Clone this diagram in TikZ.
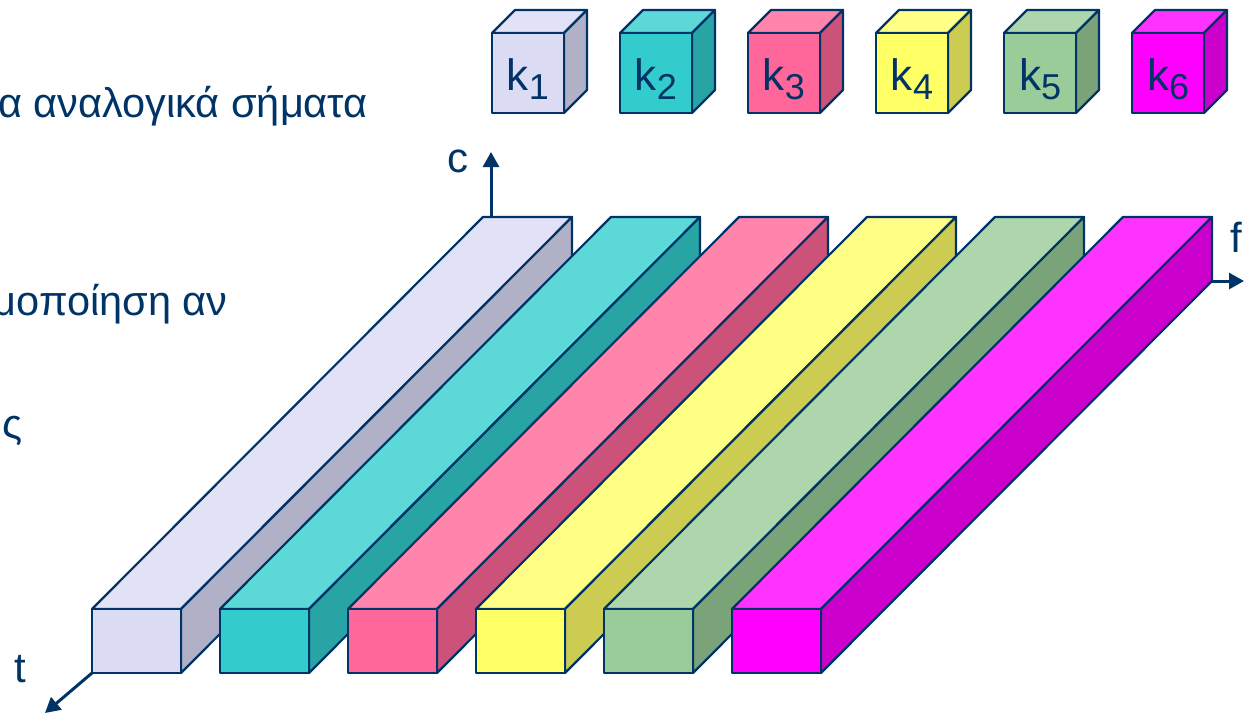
\documentclass[tikz,border=0pt]{standalone}
\usepackage{fontspec}
\setmainfont{Liberation Sans}
\usetikzlibrary{arrows.meta}
\definecolor{navy}{HTML}{003366}
\definecolor{fr1}{RGB}{219,219,244}\definecolor{tp1}{RGB}{226,226,246}\definecolor{sd1}{RGB}{176,176,199}
\definecolor{fr2}{HTML}{33CCCC}\definecolor{tp2}{HTML}{5CD8D8}\definecolor{sd2}{HTML}{29A4A4}
\definecolor{fr3}{HTML}{FF6699}\definecolor{tp3}{HTML}{FF85AD}\definecolor{sd3}{HTML}{CC527A}
\definecolor{fr4}{HTML}{FFFF66}\definecolor{tp4}{HTML}{FFFF85}\definecolor{sd4}{HTML}{CCCC52}
\definecolor{fr5}{HTML}{99CC99}\definecolor{tp5}{HTML}{ADD6AD}\definecolor{sd5}{HTML}{7AA37A}
\definecolor{fr6}{HTML}{FF00FF}\definecolor{tp6}{HTML}{FF33FF}\definecolor{sd6}{HTML}{CC00CC}
\tikzset{
  face/.style={draw=navy, line width=2.2pt, line join=round},
  axis/.style={draw=navy, line width=3pt, -{Triangle[length=15pt,width=16pt]}},
  lbl/.style={text=navy, font=\fontsize{42}{48}\selectfont, inner sep=0pt},
  greek/.style={text=navy, font=\fontsize{41.5}{48}\selectfont, inner sep=0pt},
}
\begin{document}
\begin{tikzpicture}[x=1pt,y=-1pt]
\useasboundingbox (0,0) rectangle (1245,713);
\clip (0,0) rectangle (1245,713);
\fill[white] (0,0) rectangle (1245,713);
% partial text lines (cut by the left edge, as in the reference)
\node[greek, anchor=base east] (g1) at (368,117) {τα αναλογικά σήματα};
\node[greek, anchor=base east] (g2) at (228,315) {ομοποίηση αν};
\node[greek, anchor=base west] (g3) at (2,438) {ς};
% bars
\foreach \i in {1,...,6}{
  \pgfmathsetmacro\xa{92+128*(\i-1)}
  \pgfmathsetmacro\xb{\xa+89}
  \pgfmathsetmacro\xc{\xa+391}
  \pgfmathsetmacro\xd{\xb+391}
  \filldraw[face, fill=tp\i] (\xa,609) -- (\xb,609) -- (\xd,217) -- (\xc,217) -- cycle;
  \filldraw[face, fill=sd\i] (\xb,609) -- (\xd,217) -- (\xd,281) -- (\xb,673) -- cycle;
  \filldraw[face, fill=fr\i] (\xa,609) rectangle (\xb,673);
}
% cubes
\foreach \i in {1,...,6}{
  \pgfmathsetmacro\xa{492+128*(\i-1)}
  \pgfmathsetmacro\xb{\xa+72}
  \pgfmathsetmacro\xc{\xa+23}
  \pgfmathsetmacro\xd{\xb+23}
  \pgfmathsetmacro\xm{\xa+36}
  \filldraw[face, fill=tp\i] (\xa,33) -- (\xb,33) -- (\xd,10) -- (\xc,10) -- cycle;
  \filldraw[face, fill=sd\i] (\xb,33) -- (\xd,10) -- (\xd,90) -- (\xb,113) -- cycle;
  \filldraw[face, fill=fr\i] (\xa,33) rectangle (\xb,113);
  \node[text=navy, inner sep=0pt, anchor=base] (k\i) at (\xm,90)
    {\fontsize{44}{48}\selectfont k\raisebox{-9pt}{\fontsize{36}{40}\selectfont\i}};
}
% axes
\coordinate (t0) at (92,673); \coordinate (t1) at (45,713);
\coordinate (c0) at (491,217); \coordinate (c1) at (491,152);
\coordinate (f0) at (1211,281); \coordinate (f1) at (1244,281);
\draw[axis] (t0) -- (t1);
\draw[axis] (c0) -- (c1);
\draw[axis] (f0) -- (f1);
\node[lbl] (tl) at (20,669) {t};
\node[lbl] (cl) at (458,161) {c};
\node[lbl] (fl) at (1236,237) {f};
\end{tikzpicture}
\end{document}
